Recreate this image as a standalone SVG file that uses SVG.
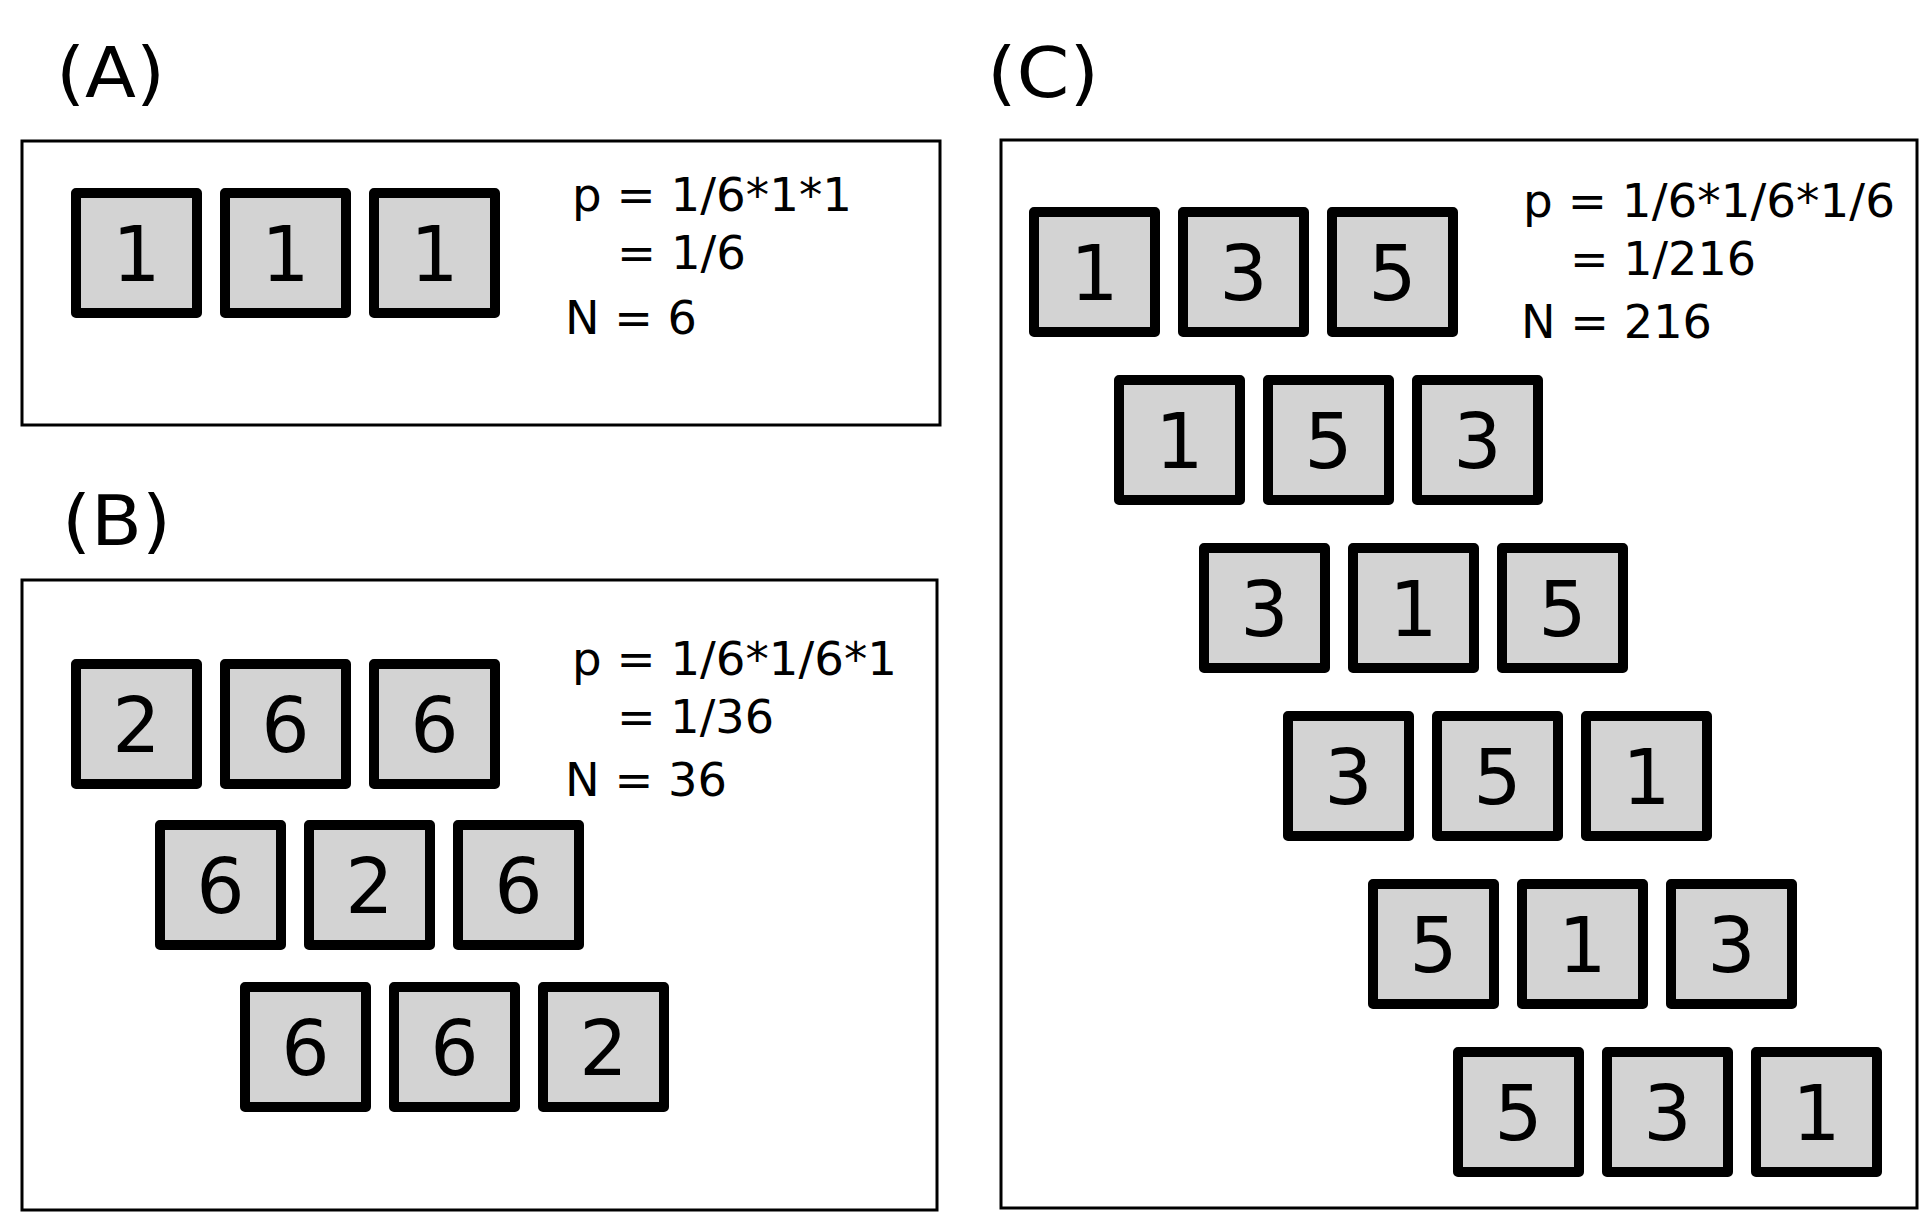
<svg xmlns="http://www.w3.org/2000/svg" width="1932" height="1232" viewBox="0 0 1932 1232">
<style>
.panel{fill:#fff;stroke:#000;stroke-width:3}
.card rect{fill:#d3d3d3;stroke:#000;stroke-width:10;stroke-linejoin:round}
.card text{font-family:"DejaVu Sans",sans-serif;font-size:76px;text-anchor:middle}
.lbl{font-family:"DejaVu Sans",sans-serif;font-size:70px}
.eq{font-family:"DejaVu Sans",sans-serif;font-size:46px}
</style>
<rect width="1932" height="1232" fill="#fff"/>
<g id="panelA">
<text class="lbl" x="56" y="97" textLength="109" lengthAdjust="spacingAndGlyphs">(A)</text>
<rect class="panel" x="22" y="141" width="918" height="284"/>
<text class="eq" x="572" y="211" textLength="280" lengthAdjust="spacingAndGlyphs">p = 1/6*1*1</text>
<text class="eq" x="617" y="269" textLength="129" lengthAdjust="spacingAndGlyphs">= 1/6</text>
<text class="eq" x="565" y="334" textLength="132" lengthAdjust="spacingAndGlyphs">N = 6</text>
</g>
<g id="panelB">
<text class="lbl" x="62" y="545" textLength="109" lengthAdjust="spacingAndGlyphs">(B)</text>
<rect class="panel" x="22" y="580" width="915" height="630"/>
<text class="eq" x="572" y="675" textLength="325" lengthAdjust="spacingAndGlyphs">p = 1/6*1/6*1</text>
<text class="eq" x="617" y="733" textLength="157" lengthAdjust="spacingAndGlyphs">= 1/36</text>
<text class="eq" x="565" y="796" textLength="162" lengthAdjust="spacingAndGlyphs">N = 36</text>
</g>
<g id="panelC">
<text class="lbl" x="987" y="97" textLength="112" lengthAdjust="spacingAndGlyphs">(C)</text>
<rect class="panel" x="1001" y="140" width="916" height="1068"/>
<text class="eq" x="1523" y="217" textLength="372" lengthAdjust="spacingAndGlyphs">p = 1/6*1/6*1/6</text>
<text class="eq" x="1570" y="275" textLength="186" lengthAdjust="spacingAndGlyphs">= 1/216</text>
<text class="eq" x="1521" y="338" textLength="191" lengthAdjust="spacingAndGlyphs">N = 216</text>
</g>
<g id="cardsA">
<g class="card"><rect x="76" y="193" width="121" height="120"/><text x="136.5" y="281">1</text></g>
<g class="card"><rect x="225" y="193" width="121" height="120"/><text x="285.5" y="281">1</text></g>
<g class="card"><rect x="374" y="193" width="121" height="120"/><text x="434.5" y="281">1</text></g>
</g>
<g id="cardsB">
<g class="card"><rect x="76" y="664" width="121" height="120"/><text x="136.5" y="752">2</text></g>
<g class="card"><rect x="225" y="664" width="121" height="120"/><text x="285.5" y="752">6</text></g>
<g class="card"><rect x="374" y="664" width="121" height="120"/><text x="434.5" y="752">6</text></g>
<g class="card"><rect x="160" y="825" width="121" height="120"/><text x="220.5" y="913">6</text></g>
<g class="card"><rect x="309" y="825" width="121" height="120"/><text x="369.5" y="913">2</text></g>
<g class="card"><rect x="458" y="825" width="121" height="120"/><text x="518.5" y="913">6</text></g>
<g class="card"><rect x="245" y="987" width="121" height="120"/><text x="305.5" y="1075">6</text></g>
<g class="card"><rect x="394" y="987" width="121" height="120"/><text x="454.5" y="1075">6</text></g>
<g class="card"><rect x="543" y="987" width="121" height="120"/><text x="603.5" y="1075">2</text></g>
</g>
<g id="cardsC">
<g class="card"><rect x="1034" y="212" width="121" height="120"/><text x="1094.5" y="300">1</text></g>
<g class="card"><rect x="1183" y="212" width="121" height="120"/><text x="1243.5" y="300">3</text></g>
<g class="card"><rect x="1332" y="212" width="121" height="120"/><text x="1392.5" y="300">5</text></g>
<g class="card"><rect x="1119" y="380" width="121" height="120"/><text x="1179.5" y="468">1</text></g>
<g class="card"><rect x="1268" y="380" width="121" height="120"/><text x="1328.5" y="468">5</text></g>
<g class="card"><rect x="1417" y="380" width="121" height="120"/><text x="1477.5" y="468">3</text></g>
<g class="card"><rect x="1204" y="548" width="121" height="120"/><text x="1264.5" y="636">3</text></g>
<g class="card"><rect x="1353" y="548" width="121" height="120"/><text x="1413.5" y="636">1</text></g>
<g class="card"><rect x="1502" y="548" width="121" height="120"/><text x="1562.5" y="636">5</text></g>
<g class="card"><rect x="1288" y="716" width="121" height="120"/><text x="1348.5" y="804">3</text></g>
<g class="card"><rect x="1437" y="716" width="121" height="120"/><text x="1497.5" y="804">5</text></g>
<g class="card"><rect x="1586" y="716" width="121" height="120"/><text x="1646.5" y="804">1</text></g>
<g class="card"><rect x="1373" y="884" width="121" height="120"/><text x="1433.5" y="972">5</text></g>
<g class="card"><rect x="1522" y="884" width="121" height="120"/><text x="1582.5" y="972">1</text></g>
<g class="card"><rect x="1671" y="884" width="121" height="120"/><text x="1731.5" y="972">3</text></g>
<g class="card"><rect x="1458" y="1052" width="121" height="120"/><text x="1518.5" y="1140">5</text></g>
<g class="card"><rect x="1607" y="1052" width="121" height="120"/><text x="1667.5" y="1140">3</text></g>
<g class="card"><rect x="1756" y="1052" width="121" height="120"/><text x="1816.5" y="1140">1</text></g>
</g>
<g id="connectors"/>
</svg>
